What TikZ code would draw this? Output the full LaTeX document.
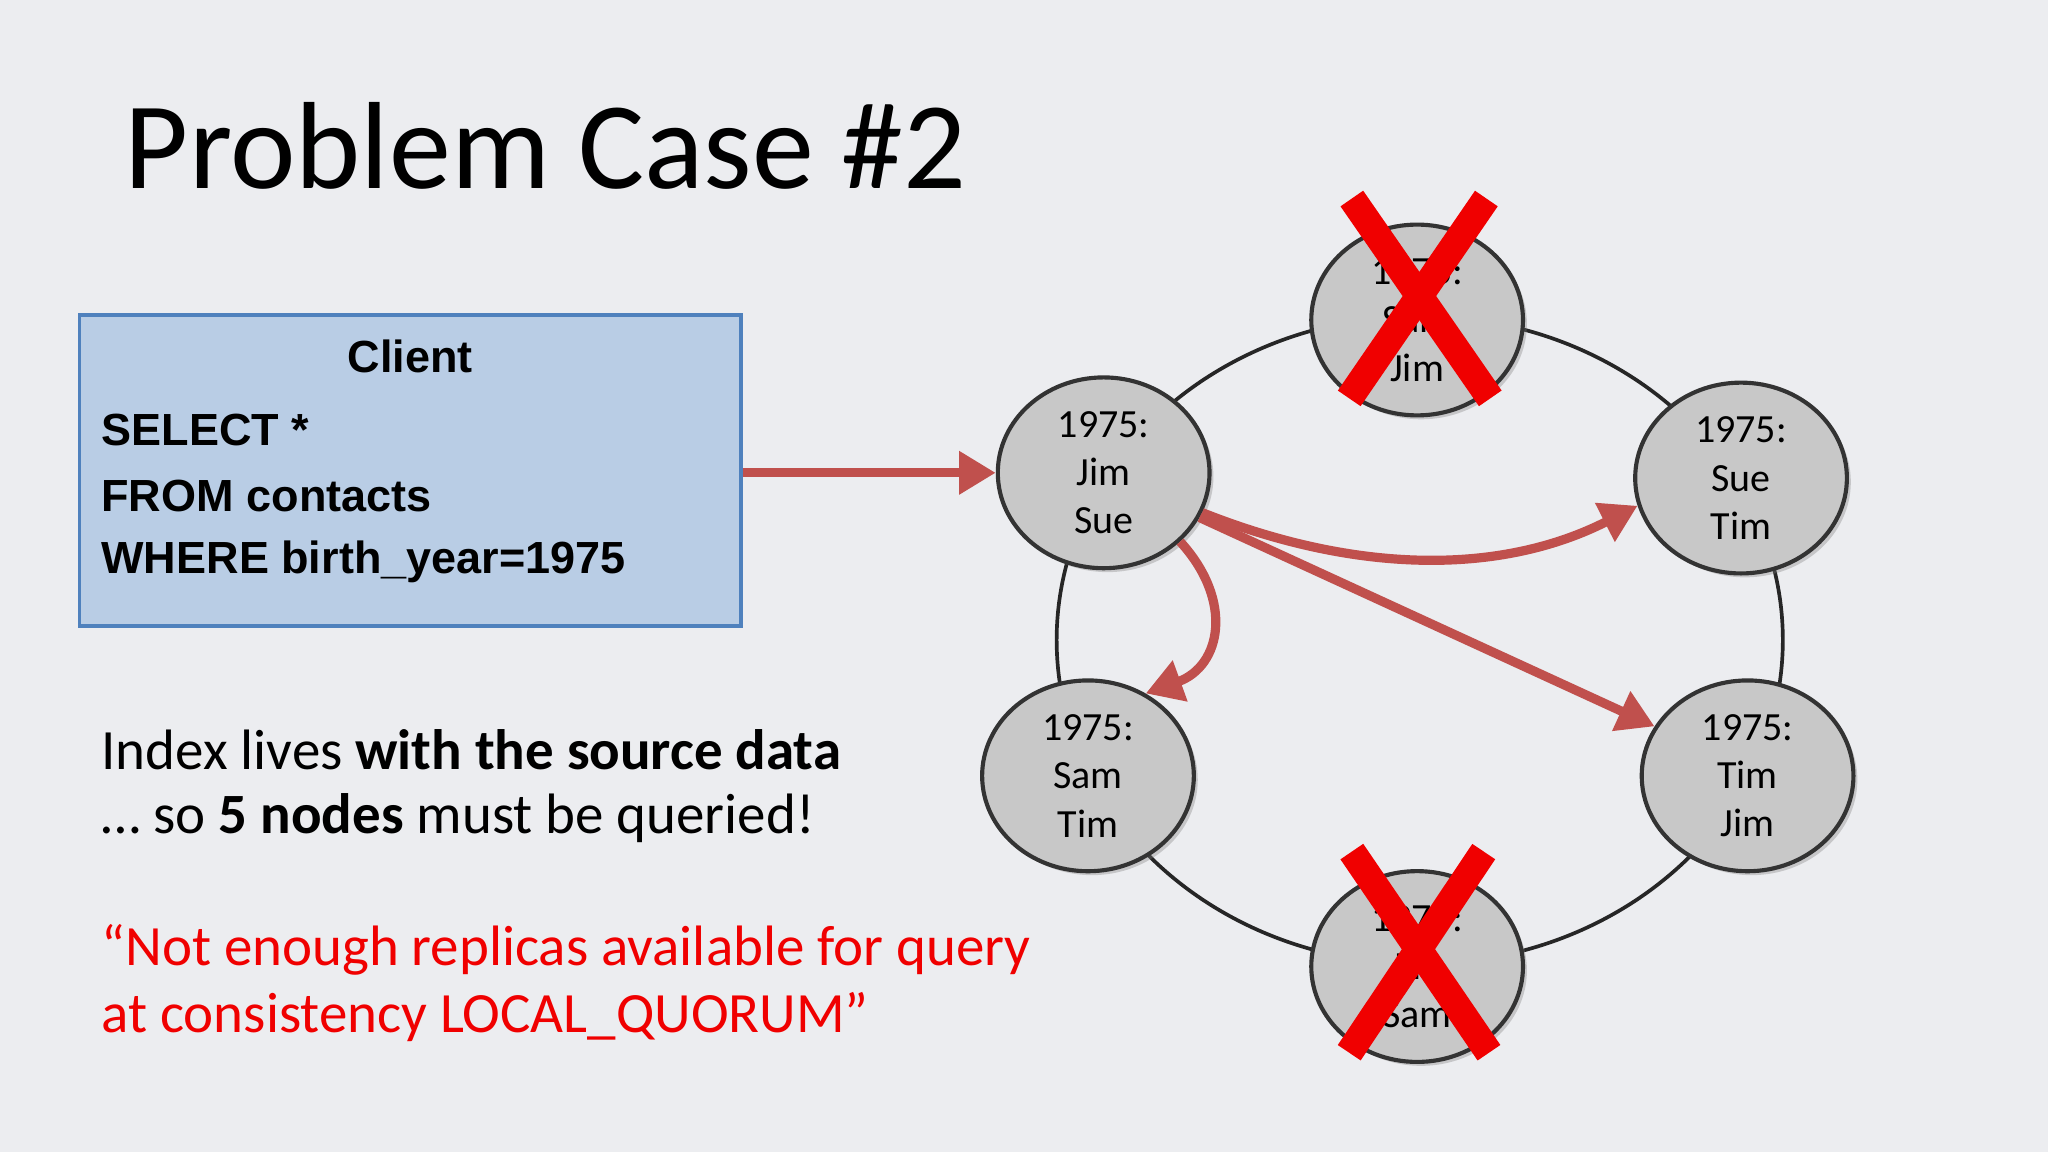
\documentclass[tikz,border=0pt]{standalone}
\usepackage{fontspec}
\setmainfont{Carlito}
\newfontfamily\arialf{Liberation Sans}
\usetikzlibrary{arrows.meta,shadows,shapes.geometric}
\definecolor{bg}{RGB}{236,237,240}
\definecolor{boxfill}{RGB}{185,205,229}
\definecolor{boxline}{RGB}{79,129,189}
\definecolor{nodefill}{RGB}{200,200,200}
\definecolor{arr}{RGB}{192,80,77}
\definecolor{xred}{RGB}{240,0,0}
\tikzset{
 ring/.style={ellipse,draw=black!80,line width=0.9pt,fill=nodefill,minimum width=1.62cm,minimum height=1.46cm,inner sep=0pt,align=center,font=\fontsize{8.7pt}{10.5pt}\selectfont,drop shadow={shadow xshift=0.03cm,shadow yshift=-0.03cm,opacity=0.35}},
 redarrow/.style={draw=arr,line width=2pt,-{Triangle[length=8pt,width=9pt]}},
 xmark/.style={draw=xred,line width=6pt},
 clientfont/.style={font=\arialf\bfseries\fontsize{9.8pt}{10pt}\selectfont,inner sep=0pt},
 body/.style={anchor=west,font=\fontsize{12.4pt}{14pt}\selectfont,inner sep=0pt}
}
\begin{document}
\begin{tikzpicture}[x=0.01cm,y=-0.01cm]
\fill[bg] (0,0) rectangle (1568,882);
\useasboundingbox (0,0) rectangle (1568,882);
\node[anchor=west,inner sep=0pt,font=\fontsize{27pt}{30pt}\selectfont] (title) at (95,112) {Problem Case \#2};
\node[draw=boxline,fill=boxfill,line width=0.8pt,minimum width=5.06cm,minimum height=2.38cm,inner sep=0pt] (client) at (314,360) {};
\node[clientfont] (ct) at (314,273) {Client};
\node[clientfont,anchor=west] (l1) at (77,329) {SELECT *};
\node[clientfont,anchor=west] (l2) at (77,380) {FROM contacts};
\node[clientfont,anchor=west] (l3) at (77,430) {WHERE birth\_year=1975};
\draw[black!85,line width=0.8pt] (1087,490) ellipse [x radius=278,y radius=248];
\node[ring] (top) at (1085,245) {1975:\\Sam\\Jim};
\node[ring] (ul) at (845,362) {1975:\\Jim\\Sue};
\node[ring] (ur) at (1333,366) {1975:\\Sue\\Tim};
\node[ring] (ll) at (833,594) {1975:\\Sam\\Tim};
\node[ring] (lr) at (1338,594) {1975:\\Tim\\Jim};
\node[ring] (bot) at (1085,740) {1975:\\Jim\\Sam};
\draw[redarrow] (client.east|-ul) -- (ul.west);
\draw[redarrow] (ul.-22) .. controls (1040,440) and (1150,440) .. (ur.-165);
\draw[redarrow] (ul.-25) -- (lr.152);
\draw[redarrow] (ul.-42) .. controls (945,460) and (935,510) .. (ll.55);
\coordinate (ta) at (1035,152); \coordinate (tb) at (1141,305);
\coordinate (tc) at (1138,152); \coordinate (td) at (1033,305);
\draw[xmark] (ta) -- (tb); \draw[xmark] (tc) -- (td);
\coordinate (ba) at (1035,652); \coordinate (bb) at (1140,806);
\coordinate (bc) at (1136,652); \coordinate (bd) at (1033,806);
\draw[xmark] (ba) -- (bb); \draw[xmark] (bc) -- (bd);
\node[body] (t1) at (77,574) {Index lives \textbf{with the source data}};
\node[body] (t2) at (77,626) {… so \textbf{5 nodes} must be queried!};
\node[body,text=xred] (t3) at (77,727) {“Not enough replicas available for query};
\node[body,text=xred] (t4) at (77,779) {at consistency LOCAL\_QUORUM”};
\end{tikzpicture}
\end{document}
